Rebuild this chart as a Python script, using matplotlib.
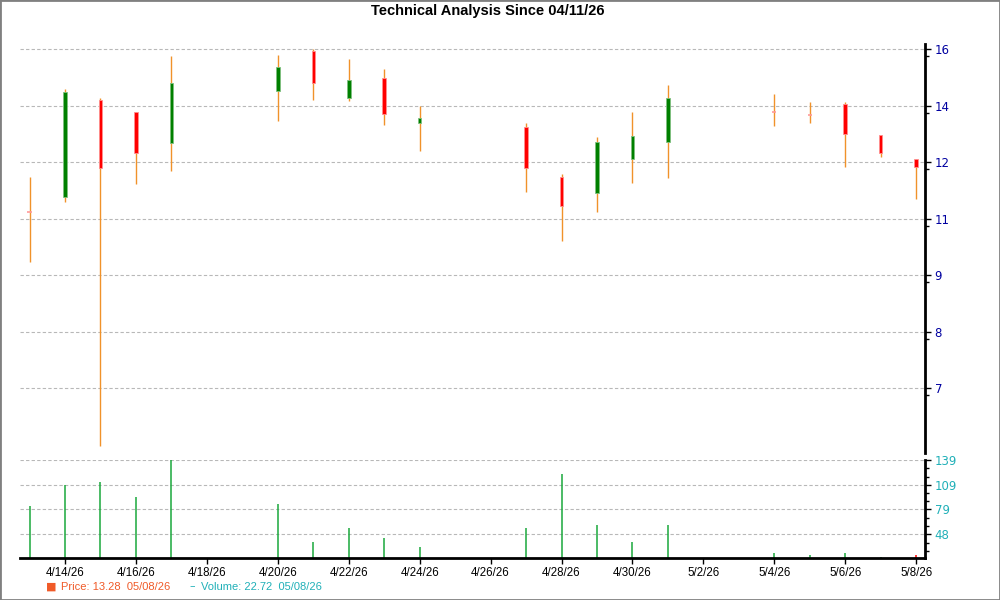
import matplotlib
matplotlib.use('Agg')
import matplotlib.pyplot as plt
import matplotlib.dates as mdates
from matplotlib.patches import Rectangle
import pandas as pd

# daily candles
dates = ['2026-04-13', '2026-04-14', '2026-04-15', '2026-04-16', '2026-04-17',
         '2026-04-20', '2026-04-21', '2026-04-22', '2026-04-23', '2026-04-24',
         '2026-04-27', '2026-04-28', '2026-04-29', '2026-04-30', '2026-05-01',
         '2026-05-04', '2026-05-05', '2026-05-06', '2026-05-07', '2026-05-08']
opens = [10.77, 11.16, 14.13, 13.72, 12.72, 14.44, 15.92, 14.20, 14.91, 13.36,
         13.25, 11.71, 11.26, 12.25, 12.75, 13.74, 13.63, 13.99, 12.97, 12.24]
closes = [10.77, 14.41, 11.98, 12.42, 14.73, 15.34, 14.73, 14.86, 13.65, 13.52,
          11.98, 10.92, 12.77, 12.96, 14.22, 13.74, 13.63, 13.00, 12.44, 12.01]
highs = [11.72, 14.51, 14.21, 13.72, 15.74, 15.78, 16.00, 15.61, 15.24, 13.92,
         13.36, 11.80, 12.91, 13.72, 14.67, 14.35, 14.07, 14.08, 12.97, 12.24]
lows = [9.53, 11.03, 6.08, 11.53, 11.90, 13.44, 14.14, 14.12, 13.31, 12.50,
        11.31, 10.03, 10.77, 11.56, 11.70, 13.28, 13.38, 12.02, 12.31, 11.12]
volumes = [82.7, 108.0, 111.7, 93.3, 139.0, 85.1, 38.6, 55.7, 43.5, 32.4,
           55.7, 121.9, 59.4, 38.6, 59.4, 25.1, 22.6, 25.1, 20.0, 22.72]

price_tick_labels = ['16', '14', '12', '11', '9', '8', '7']
vol_ticks = [48, 79, 109, 139]
date_ticks = ['2026-04-14', '2026-04-16', '2026-04-18', '2026-04-20', '2026-04-22',
              '2026-04-24', '2026-04-26', '2026-04-28', '2026-04-30', '2026-05-02',
              '2026-05-04', '2026-05-06', '2026-05-08']
date_tick_labels = ['4/14/26', '4/16/26', '4/18/26', '4/20/26', '4/22/26', '4/24/26',
                    '4/26/26', '4/28/26', '4/30/26', '5/2/26', '5/4/26', '5/6/26', '5/8/26']

x = mdates.date2num(pd.to_datetime(dates))
xt = mdates.date2num(pd.to_datetime(date_ticks))

fig = plt.figure(figsize=(10, 6), dpi=100)
ax = fig.add_axes([0.02, 0.245, 0.905, 0.6817])
axv = fig.add_axes([0.02, 0.0705, 0.905, 0.1628], sharex=ax)

# candles
ax.vlines(x, lows, highs, color='#f0922a', lw=1, zorder=2)
for xi, o, c in zip(x, opens, closes):
    if o == c:
        ax.hlines(o, xi - 0.06, xi + 0.06, color='#ff9a9a', lw=1.2, zorder=3)
        continue
    up = c > o
    ax.bar(xi, abs(c - o), bottom=min(o, c), width=0.1,
           color='#008000' if up else '#ff0000',
           edgecolor='#80c080' if up else '#ff9090', linewidth=0.6, zorder=3)

ax.set_yscale('log')
ax.set_ylim(5.98, 16.21)
step = (16 / 7) ** (1 / 6)
pticks = [16 / step ** k for k in range(7)]
ax.set_yticks(pticks)
ax.set_yticklabels(price_tick_labels)
ax.set_yticks([t * 0.983 for t in pticks], minor=True)
ax.yaxis.set_minor_formatter(plt.NullFormatter())

# volume
vcolors = ['#1aa83c'] * (len(volumes) - 1) + ['#ff0000']
axv.vlines(x, 0, volumes, color=vcolors, lw=1.1)
axv.set_ylim(19.3, 139)
axv.set_yticks(vol_ticks)
vstep = (139 - 48) / 9
axv.set_yticks([48 - vstep * 2 + vstep * k for k in range(12) if (k - 2) % 3], minor=True)

axv.set_xlim(x[0] - 0.27, x[-1] + 0.25)
axv.set_xticks(xt)
axv.set_xticklabels(date_tick_labels, family='Liberation Sans')

for a, lab_color in ((ax, '#0000a0'), (axv, '#20b0b8')):
    for s in ('top', 'left', 'bottom'):
        a.spines[s].set_visible(False)
    a.spines['right'].set_linewidth(2)
    a.yaxis.tick_right()
    a.tick_params(axis='y', which='major', labelsize=8.5, labelcolor=lab_color,
                  length=4, width=1, direction='out', pad=3)
    a.tick_params(axis='y', which='minor', length=3, width=1)
    a.grid(axis='y', linestyle=(0, (3, 2)), color='#b8b8b8', lw=0.8)
    a.set_axisbelow(True)

ax.tick_params(axis='x', which='both', bottom=False, labelbottom=False)
axv.spines['bottom'].set_visible(True)
axv.spines['bottom'].set_linewidth(2)
axv.tick_params(axis='x', labelsize=8.3, length=4, width=1, pad=3)

fig.text(0.488, 0.982, 'Technical Analysis Since 04/11/26', ha='center', va='center',
         fontsize=10.5, fontweight='bold', family='Liberation Sans')
legend_y = 0.0225
fig.text(0.046, legend_y, '■', color='#f05a28', fontsize=8, va='center')
fig.text(0.061, legend_y, 'Price: 13.28  05/08/26', color='#f05a28', fontsize=8,
         va='center', family='Liberation Sans')
fig.text(0.189, legend_y, '–', color='#20b0b8', fontsize=8, va='center')
fig.text(0.201, legend_y, 'Volume: 22.72  05/08/26', color='#20b0b8', fontsize=8,
         va='center', family='Liberation Sans')

fig.patches.append(Rectangle((0, 0), 1, 1, transform=fig.transFigure, fill=False,
                             edgecolor='#808080', lw=2))

fig.savefig('out.png', dpi=100)
